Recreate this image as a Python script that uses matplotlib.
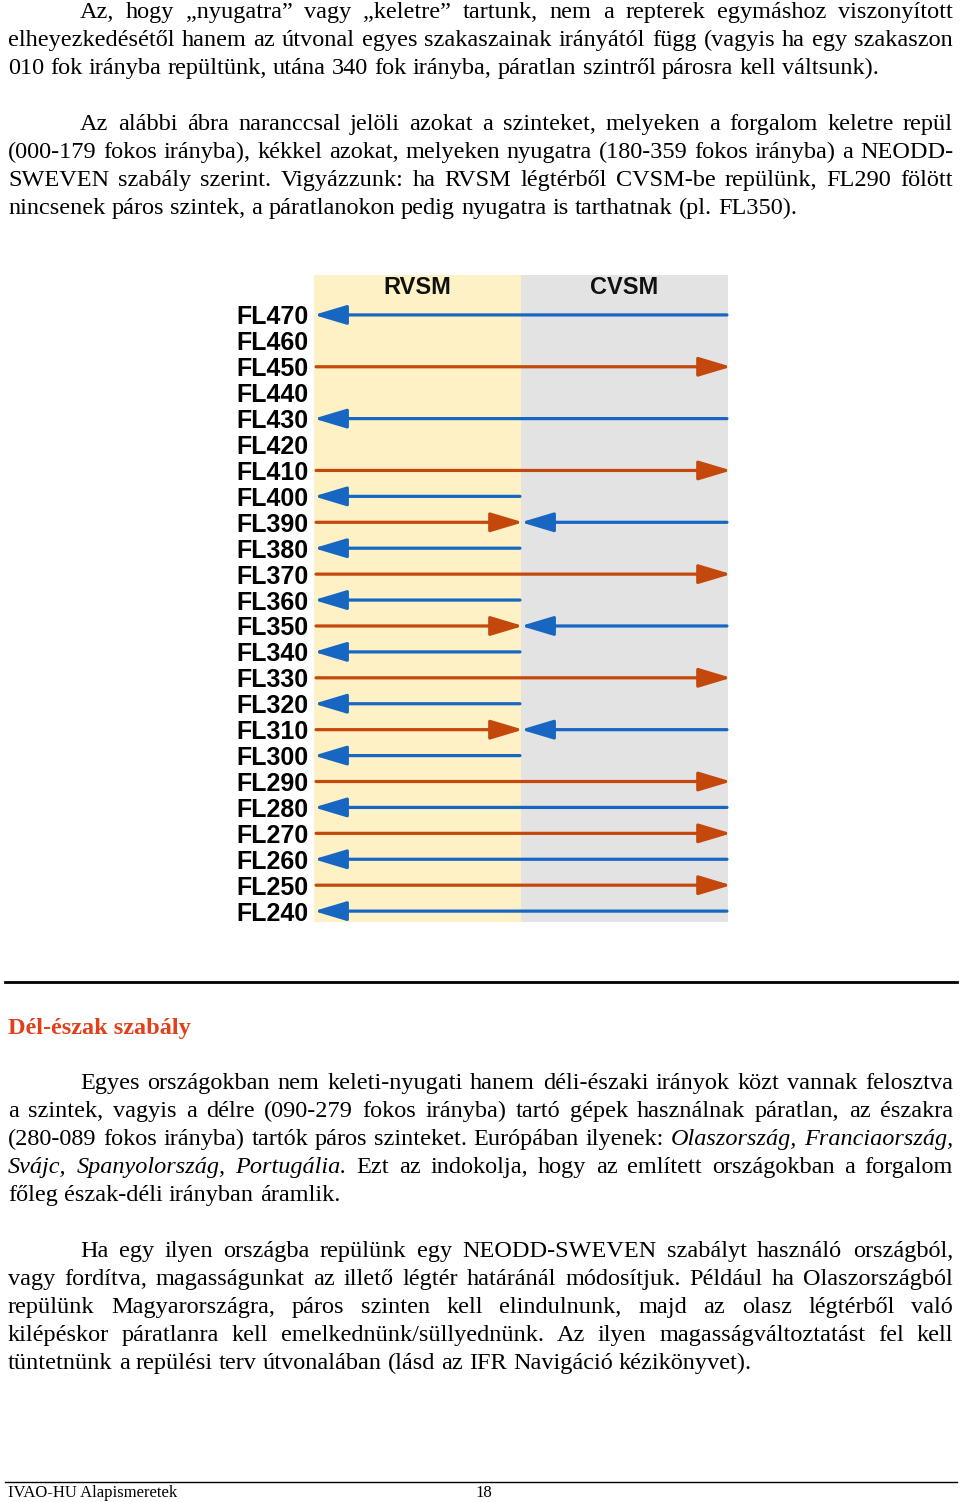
import matplotlib
matplotlib.use("Agg")
import matplotlib.pyplot as plt

# repülési szintek es az iranyok (E = keletre, W = nyugatra, None = nincs)
levels = [470, 460, 450, 440, 430, 420, 410, 400, 390, 380, 370, 360,
          350, 340, 330, 320, 310, 300, 290, 280, 270, 260, 250, 240]
rvsm_dir = ['W', None, 'E', None, 'W', None, 'E', 'W', 'E', 'W', 'E', 'W',
            'E', 'W', 'E', 'W', 'E', 'W', 'E', 'W', 'E', 'W', 'E', 'W']
cvsm_dir = ['W', None, 'E', None, 'W', None, 'E', None, 'W', None, 'E', None,
            'W', None, 'E', None, 'W', None, 'E', 'W', 'E', 'W', 'E', 'W']
level_labels = ["FL%d" % l for l in levels]
zones = ["RVSM", "CVSM"]

BLUE = "#1767c2"
ORANGE = "#c4480c"
W, H = 960, 1502

p1 = ["Az, hogy „nyugatra” vagy „keletre” tartunk, nem a repterek egymáshoz viszonyított",
      "elheyezkedésétől hanem az útvonal egyes szakaszainak irányától függ (vagyis ha egy szakaszon",
      "010 fok irányba repültünk, utána 340 fok irányba, páratlan szintről párosra kell váltsunk)."]
p2 = ["Az alábbi ábra naranccsal jelöli azokat a szinteket, melyeken a forgalom keletre repül",
      "(000-179 fokos irányba), kékkel azokat, melyeken nyugatra (180-359 fokos irányba) a NEODD-",
      "SWEVEN szabály szerint. Vigyázzunk: ha RVSM légtérből CVSM-be repülünk, FL290 fölött",
      "nincsenek páros szintek, a páratlanokon pedig nyugatra is tarthatnak (pl. FL350)."]
p3 = ["Egyes országokban nem keleti-nyugati hanem déli-északi irányok közt vannak felosztva",
      "a szintek, vagyis a délre (090-279 fokos irányba) tartó gépek használnak páratlan, az északra",
      "(280-089 fokos irányba) tartók páros szinteket. Európában ilyenek: *Olaszország, *Franciaország,",
      "*Svájc, *Spanyolország, *Portugália. Ezt az indokolja, hogy az említett országokban a forgalom",
      "főleg észak-déli irányban áramlik."]
p4 = ["Ha egy ilyen országba repülünk egy NEODD-SWEVEN szabályt használó országból,",
      "vagy fordítva, magasságunkat az illető légtér határánál módosítjuk. Például ha Olaszországból",
      "repülünk Magyarországra, páros szinten kell elindulnunk, majd az olasz légtérből való",
      "kilépéskor páratlanra kell emelkednünk/süllyednünk. Az ilyen magasságváltoztatást fel kell",
      "tüntetnünk a repülési terv útvonalában (lásd az IFR Navigáció kézikönyvet)."]

fig = plt.figure(figsize=(W / 100, H / 100), dpi=100)
fig.patch.set_facecolor("white")
renderer = fig.canvas.get_renderer()
SERIF = "Liberation Serif"
SIZE = 17.5


def sor(szoveg, x0, x1, y, justify):
    szavak = szoveg.split(" ")
    texts = []
    for sz in szavak:
        dolt = sz.startswith("*")
        t = fig.text(0, 1 - y / H, sz.lstrip("*"), fontsize=SIZE, family=SERIF,
                     style="italic" if dolt else "normal", va="baseline", ha="left")
        texts.append(t)
    widths = [t.get_window_extent(renderer).width for t in texts]
    sp = fig.text(0, 0, "a a", fontsize=SIZE, family=SERIF)
    sp2 = fig.text(0, 0, "aa", fontsize=SIZE, family=SERIF)
    space = sp.get_window_extent(renderer).width - sp2.get_window_extent(renderer).width
    sp.remove()
    sp2.remove()
    if justify and len(texts) > 1:
        gap = (x1 - x0 - sum(widths)) / (len(texts) - 1)
    else:
        gap = space
    x = x0
    for t, w in zip(texts, widths):
        t.set_x(x / W)
        x += w + gap


def bekezdes(sorok, y0):
    for i, s in enumerate(sorok):
        x0 = 80 if i == 0 else 8
        sor(s, x0, 953, y0 + i * 28, i < len(sorok) - 1)


bekezdes(p1, 18)
bekezdes(p2, 130)
bekezdes(p3, 1089)
bekezdes(p4, 1257)

# fejezet cim
fig.text(8 / W, 1 - 1034 / H, "Dél-észak szabály", fontsize=17.5, family=SERIF,
         fontweight="bold", color="#e0401a", va="baseline")

# vonalak
fig.add_artist(plt.Line2D([5 / W, 957 / W], [1 - 982 / H] * 2, color="black", lw=2))
fig.add_artist(plt.Line2D([5 / W, 957 / W], [1 - 1482 / H] * 2, color="black", lw=1))
fig.text(8 / W, 1 - 1497 / H, "IVAO-HU Alapismeretek", fontsize=12, family=SERIF, va="baseline")
fig.text(475 / W, 1 - 1497 / H, "18", fontsize=12, family=SERIF, va="baseline")

# abra
ax = fig.add_axes([314 / W, 1 - 922 / H, 414 / W, 647 / H])
ax.set_xlim(0, 2)
ax.set_ylim(235.8, 485.4)
ax.axvspan(0, 1, color="#fdf1c5", lw=0)
ax.axvspan(1, 2, color="#e3e3e3", lw=0)
for i, z in enumerate(zones):
    ax.text(i + 0.5, 480.4, z, ha="center", va="center", fontsize=17,
            family="Liberation Sans", fontweight="bold", color="#111111")

ap = dict(arrowstyle="-|>,head_length=1.0,head_width=0.3", lw=2.3,
          shrinkA=0, shrinkB=0, mutation_scale=20)


def nyil(x_tail, x_tip, y, color):
    ax.annotate("", xy=(x_tip, y), xytext=(x_tail, y), annotation_clip=False,
                arrowprops=dict(ap, color=color))


for l, r, c in zip(levels, rvsm_dir, cvsm_dir):
    if r is None:
        continue
    if r == c:
        if r == 'W':
            nyil(1.995, 0.0, l, BLUE)
        else:
            nyil(0.01, 2.015, l, ORANGE)
    else:
        if r == 'W':
            nyil(0.995, 0.0, l, BLUE)
        else:
            nyil(0.01, 1.01, l, ORANGE)
        if c == 'W':
            nyil(1.995, 1.0, l, BLUE)

ax.set_yticks(levels)
ax.set_yticklabels(level_labels, family="Liberation Sans", fontweight="bold", fontsize=18)
ax.tick_params(axis="y", length=0, pad=4)
ax.set_xticks([])
for s in ax.spines.values():
    s.set_visible(False)

fig.savefig("out.png", dpi=100)
